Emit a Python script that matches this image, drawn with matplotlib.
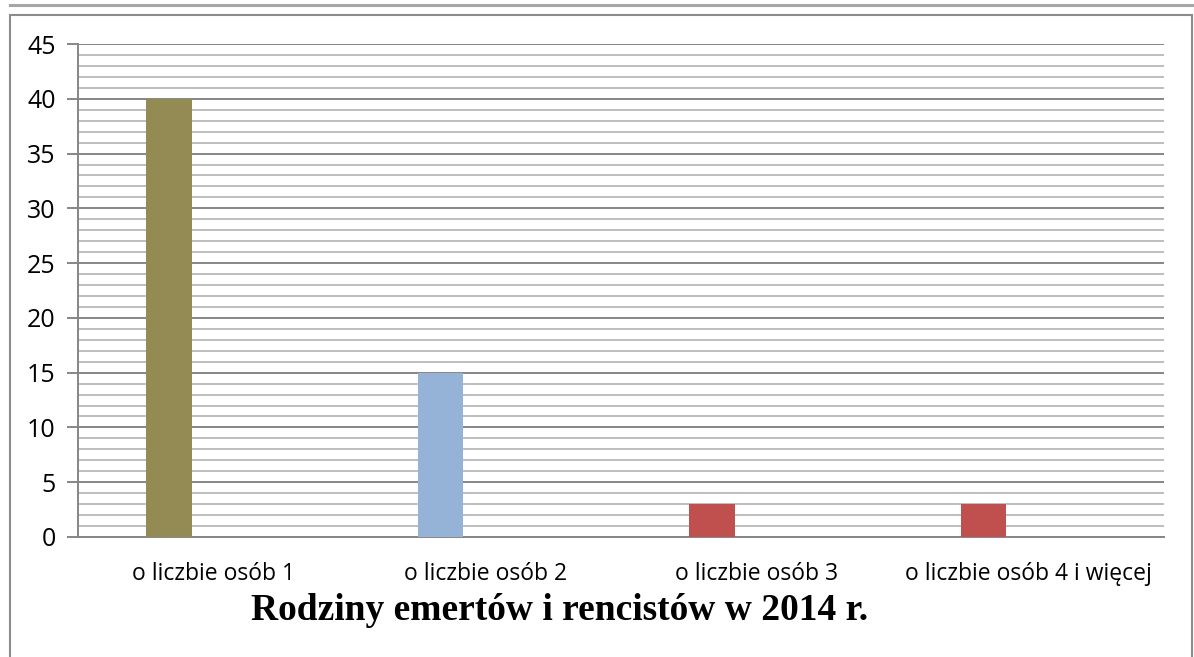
import matplotlib.pyplot as plt
from matplotlib.lines import Line2D
from matplotlib.patches import Rectangle
from matplotlib.ticker import MultipleLocator

# Dane
kategorie = ['o liczbie osób 1', 'o liczbie osób 2', 'o liczbie osób 3', 'o liczbie osób 4 i więcej']
wartosci = [40, 15, 3, 3]
kolory = ['#948A54', '#95B3D7', '#C0504D', '#C0504D']
tytul = 'Rodziny emertów i rencistów w 2014 r.'

W, H = 1194, 657
fig = plt.figure(figsize=(W / 100, H / 100), dpi=100)

# ramka wykresu i linia u gory
fig.add_artist(Line2D([10 / W, 1.0], [1 - 5 / H, 1 - 5 / H], color='#A6A6A6', lw=2.2))
fig.add_artist(Rectangle((10 / W, -0.01), 1182 / W, 1.01 - 15 / H, fill=False,
                         edgecolor='#8C8C8C', lw=1.5))

ax = fig.add_axes([78 / W, 1 - 537 / H, (1164 - 78) / W, (537 - 44) / H])

x = range(len(kategorie))
ax.bar([i - 0.165 for i in x], wartosci, width=0.167, color=kolory, zorder=3)

ax.set_xlim(-0.5, len(kategorie) - 0.5)
ax.set_ylim(0, 45)
ax.yaxis.set_major_locator(MultipleLocator(5))
ax.yaxis.set_minor_locator(MultipleLocator(1))
ax.grid(which='minor', axis='y', color='#BEBEBE', lw=1.4, zorder=1)
ax.grid(which='major', axis='y', color='#868686', lw=1.4, zorder=2)

for s in ['top', 'right']:
    ax.spines[s].set_visible(False)
ax.spines['left'].set_color('#868686')
ax.spines['bottom'].set_color('#868686')
ax.spines['left'].set_linewidth(1.4)
ax.spines['bottom'].set_linewidth(1.4)

ax.set_xticks(list(x))
ax.set_xticklabels(kategorie, fontfamily='Open Sans', fontsize=16.5)
ax.tick_params(axis='x', length=0, pad=18)
ax.tick_params(axis='y', which='major', length=8, width=1.4, color='#868686',
               labelsize=18, pad=8)
ax.tick_params(axis='y', which='minor', length=0)
for lab in ax.get_yticklabels():
    lab.set_fontfamily('Open Sans')

fig.text(560 / W, 1 - 610 / H, tytul, ha='center', va='center',
         fontfamily='Liberation Serif', fontweight='bold', fontsize=27)

fig.savefig('out.png', dpi=100)
